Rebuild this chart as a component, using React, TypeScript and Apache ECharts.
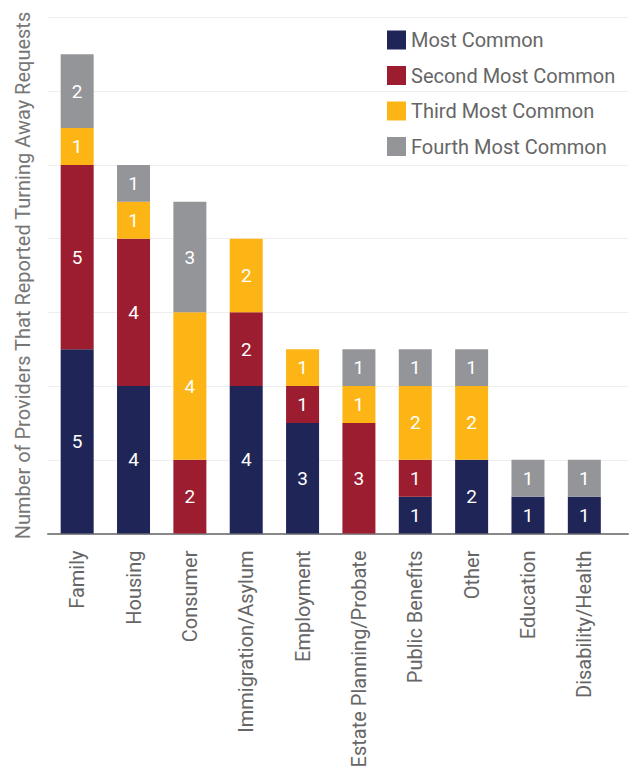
import React, { useEffect, useRef } from "react";
import * as echarts from "echarts";

const categories = [
  "Family",
  "Housing",
  "Consumer",
  "Immigration/Asylum",
  "Employment",
  "Estate Planning/Probate",
  "Public Benefits",
  "Other",
  "Education",
  "Disability/Health",
];
const mostCommon = [5, 4, 0, 4, 3, 0, 1, 2, 1, 1];
const secondMost = [5, 4, 2, 2, 1, 3, 1, 0, 0, 0];
const thirdMost = [1, 1, 4, 2, 1, 1, 2, 2, 0, 0];
const fourthMost = [2, 1, 3, 0, 0, 1, 1, 1, 1, 1];
const seriesNames = ["Most Common", "Second Most Common", "Third Most Common", "Fourth Most Common"];
const seriesColors = ["#1f2557", "#9b1d2f", "#fdb515", "#939598"];
const yMax = 14;
const yInterval = 2;

export default function App() {
  const ref = useRef<HTMLDivElement>(null);
  useEffect(() => {
    if (!ref.current) return;
    const chart = echarts.init(ref.current, null, { renderer: "svg" });
    const font = "Roboto, 'Noto Sans', sans-serif";
    const values = [mostCommon, secondMost, thirdMost, fourthMost];
    chart.setOption({
      animation: false,
      textStyle: { fontFamily: font },
      legend: {
        orient: "vertical",
        left: 387,
        top: 30,
        padding: 0,
        itemWidth: 19,
        itemHeight: 19,
        itemGap: 15.5,
        icon: "rect",
        textStyle: { fontSize: 20, color: "#666", fontFamily: font },
        data: seriesNames,
      },
      grid: [
        { left: 49, right: 19.5, top: 17.5, bottom: 238.5 },
        { left: 48, right: 4, top: 17.5, bottom: 238.5 },
      ],
      xAxis: [
        {
          type: "category",
          gridIndex: 0,
          data: categories,
          axisLine: { show: false },
          axisTick: { show: false },
          axisLabel: {
            rotate: 90,
            margin: 17,
            fontSize: 20,
            color: "#666",
            fontFamily: font,
            interval: 0,
          },
        },
        {
          type: "value",
          gridIndex: 1,
          min: 0,
          max: 1,
          axisLine: { show: true, lineStyle: { color: "#888", width: 2 } },
          axisTick: { show: false },
          axisLabel: { show: false },
          splitLine: { show: false },
        },
      ],
      yAxis: [
        {
          type: "value",
          gridIndex: 0,
          min: 0,
          max: yMax,
          interval: yInterval,
          name: "Number of Providers That Reported Turning Away Requests",
          nameLocation: "middle",
          nameGap: 16,
          nameTextStyle: { fontSize: 20, color: "#777", fontFamily: font },
          axisLine: { show: false },
          axisTick: { show: false },
          axisLabel: { show: false },
          splitLine: { show: false },
        },
        {
          type: "value",
          gridIndex: 1,
          min: 0,
          max: yMax,
          interval: yInterval,
          axisLine: { show: false },
          axisTick: { show: false },
          axisLabel: { show: false },
          splitLine: { show: true, lineStyle: { color: "#eeeeee", width: 1 } },
        },
      ],
      series: seriesNames.map((name, i) => ({
        name,
        type: "bar",
        stack: "total",
        xAxisIndex: 0,
        yAxisIndex: 0,
        barWidth: 33,
        itemStyle: { color: seriesColors[i] },
        label: {
          show: true,
          position: "inside",
          color: "#fff",
          fontSize: 19,
          fontFamily: font,
          formatter: (p: any) => (p.value ? String(p.value) : ""),
        },
        data: values[i],
      })),
    });
    return () => chart.dispose();
  }, []);
  return <div ref={ref} style={{ width: 632, height: 772, position: "absolute", left: 0, top: 0 }} />;
}
